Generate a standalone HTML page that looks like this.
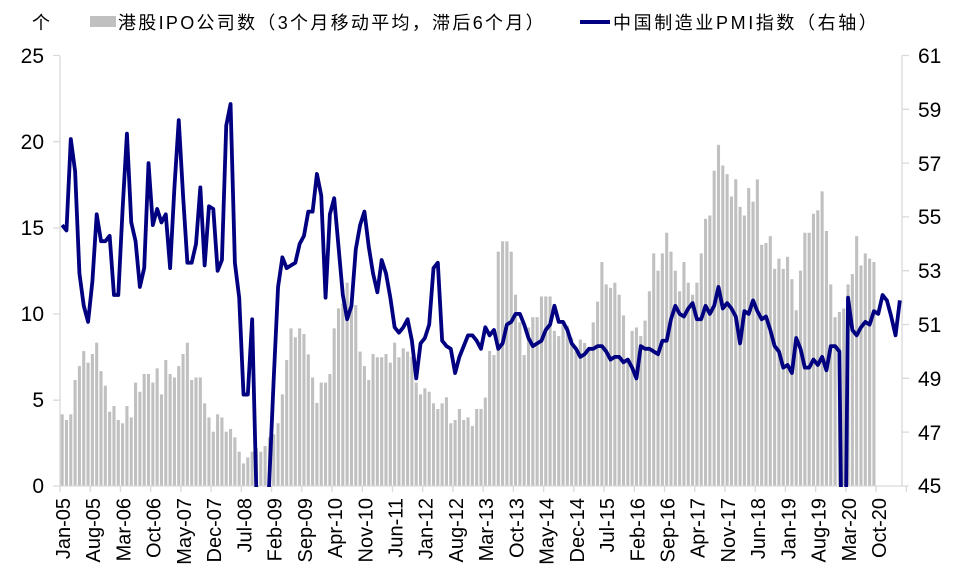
<!DOCTYPE html>
<html><head><meta charset="utf-8">
<style>
html,body{margin:0;padding:0;background:#fff;overflow:hidden;width:960px;height:585px;}
svg{display:block;font-family:"Liberation Sans","Noto Sans CJK SC",sans-serif;}
</style></head>
<body>
<svg id="c" width="960" height="585" viewBox="0 0 960 585" xmlns="http://www.w3.org/2000/svg">
<defs><clipPath id="pc"><rect x="55" y="40" width="850" height="447"/></clipPath></defs>
<g id="bars" fill="#c0c0c0"></g>
<g stroke="#d9d9d9" stroke-width="1.3" fill="none">
<line x1="60" y1="55.5" x2="60" y2="486"/>
<line x1="902" y1="55.5" x2="902" y2="486"/>
<line x1="60" y1="486" x2="902" y2="486"/>
<path d="M53 55.5H60M53 141.7H60M53 227.9H60M53 314H60M53 400.2H60M53 486H60"/>
<path d="M902 55.5H909M902 109.3H909M902 163.1H909M902 216.9H909M902 270.7H909M902 324.5H909M902 378.3H909M902 432.1H909M902 486H909"/>
<g id="xt"></g>
</g>
<polyline id="pmi" clip-path="url(#pc)" fill="none" stroke="#000080" stroke-width="3.8" stroke-linejoin="round"/>
<g font-size="21" fill="#000" text-anchor="end">
<text x="44" y="63">25</text><text x="44" y="149">20</text><text x="44" y="235">15</text>
<text x="44" y="321">10</text><text x="44" y="407">5</text><text x="44" y="493">0</text>
</g>
<g font-size="21" fill="#000">
<text x="918" y="63">61</text><text x="918" y="117">59</text><text x="918" y="171">57</text>
<text x="918" y="224">55</text><text x="918" y="278">53</text><text x="918" y="332">51</text>
<text x="918" y="386">49</text><text x="918" y="440">47</text><text x="918" y="493">45</text>
</g>
<g font-size="18" fill="#000">
<text x="32" y="29">个</text>
<rect x="90" y="16" width="26" height="11" fill="#c0c0c0"/>
<text x="118" y="29" letter-spacing="2.3">港股IPO公司数（3个月移动平均，滞后6个月）</text>
<line x1="580" y1="22" x2="610" y2="22" stroke="#000080" stroke-width="4"/>
<text x="613" y="29" letter-spacing="2.6">中国制造业PMI指数（右轴）</text>
</g>
<g font-size="20" fill="#000" text-anchor="end">
<text transform="translate(70,498) rotate(-90)">Jan-05</text>
<text transform="translate(100.2,498) rotate(-90)">Aug-05</text>
<text transform="translate(130.5,498) rotate(-90)">Mar-06</text>
<text transform="translate(160.7,498) rotate(-90)">Oct-06</text>
<text transform="translate(190.9,498) rotate(-90)">May-07</text>
<text transform="translate(221.1,498) rotate(-90)">Dec-07</text>
<text transform="translate(251.4,498) rotate(-90)">Jul-08</text>
<text transform="translate(281.6,498) rotate(-90)">Feb-09</text>
<text transform="translate(311.8,498) rotate(-90)">Sep-09</text>
<text transform="translate(342,498) rotate(-90)">Apr-10</text>
<text transform="translate(372.3,498) rotate(-90)">Nov-10</text>
<text transform="translate(402.5,498) rotate(-90)">Jun-11</text>
<text transform="translate(432.7,498) rotate(-90)">Jan-12</text>
<text transform="translate(462.9,498) rotate(-90)">Aug-12</text>
<text transform="translate(493.2,498) rotate(-90)">Mar-13</text>
<text transform="translate(523.4,498) rotate(-90)">Oct-13</text>
<text transform="translate(553.6,498) rotate(-90)">May-14</text>
<text transform="translate(583.8,498) rotate(-90)">Dec-14</text>
<text transform="translate(614.1,498) rotate(-90)">Jul-15</text>
<text transform="translate(644.3,498) rotate(-90)">Feb-16</text>
<text transform="translate(674.5,498) rotate(-90)">Sep-16</text>
<text transform="translate(704.7,498) rotate(-90)">Apr-17</text>
<text transform="translate(735,498) rotate(-90)">Nov-17</text>
<text transform="translate(765.2,498) rotate(-90)">Jun-18</text>
<text transform="translate(795.4,498) rotate(-90)">Jan-19</text>
<text transform="translate(825.6,498) rotate(-90)">Aug-19</text>
<text transform="translate(855.9,498) rotate(-90)">Mar-20</text>
<text transform="translate(886.1,498) rotate(-90)">Oct-20</text>
</g>
</svg>
<script>
var ipo=[4.16,3.83,4.16,6.15,6.96,7.83,7.16,7.66,8.32,6.67,5.82,4.31,4.64,3.83,3.64,4.64,3.98,6.0,5.47,6.5,6.5,6.0,6.83,5.32,7.31,6.5,6.3,6.96,7.66,8.32,6.15,6.3,6.3,4.8,3.98,3.15,4.16,3.98,3.15,3.31,2.82,1.99,1.31,1.66,1.99,2.2,1.99,2.32,2.82,3.0,3.64,5.32,7.31,9.15,8.63,9.15,8.82,7.64,6.3,4.82,6.0,6.0,6.5,9.15,10.31,10.6,11.8,10.6,10.5,7.8,6.96,6.15,7.66,7.47,7.47,7.66,7.16,8.32,7.47,7.99,7.8,7.5,6.0,5.32,5.67,5.47,4.8,4.47,4.8,5.15,3.64,3.83,4.47,3.83,3.98,3.48,4.47,
4.47,5.13,7.84,7.6,13.6,14.2,14.2,13.6,11.1,9.5,7.6,9.2,9.8,9.8,11.0,11.0,11.0,9.0,8.7,9.5,9.3,8.6,7.8,8.5,8.3,8.0,9.5,10.7,13.0,11.7,11.5,11.8,11.1,9.9,7.4,9.0,9.2,8.7,9.6,11.3,13.5,12.5,13.5,14.7,
13.6,12.5,11.3,13.0,11.8,11.1,11.8,13.5,15.5,15.7,18.3,19.8,18.6,18.1,16.8,17.8,16.2,15.7,17.3,16.5,17.8,14.0,14.1,14.5,12.6,13.2,12.6,13.3,12.0,10.2,12.5,14.7,14.7,15.8,16.0,17.1,14.8,11.7,9.8,10.1,10.3,11.7,12.3,14.5,12.8,13.5,13.2,13.0];
var pmi=[54.7,54.5,57.9,56.7,52.9,51.7,51.1,52.6,55.1,54.1,54.1,54.3,
52.1,52.1,55.3,58.1,54.8,54.1,52.4,53.1,57.0,54.7,55.3,54.8,
55.1,53.1,56.1,58.6,55.8,53.3,53.3,54.0,56.1,53.2,55.4,55.3,
53.0,53.4,58.4,59.2,53.3,52.0,48.4,48.4,51.2,44.6,38.8,41.2,
45.3,49.0,52.4,53.5,53.1,53.2,53.3,54.0,54.3,55.2,55.2,56.6,
55.8,52.0,55.1,55.7,53.9,52.1,51.2,51.7,53.8,54.7,55.2,53.9,
52.9,52.2,53.4,52.9,52.0,50.9,50.7,50.9,51.2,50.4,49.0,50.3,
50.5,51.0,53.1,53.3,50.4,50.2,50.1,49.2,49.8,50.2,50.6,50.6,
50.4,50.1,50.9,50.6,50.8,50.1,50.3,51.0,51.1,51.4,51.4,51.0,
50.5,50.2,50.3,50.4,50.8,51.0,51.7,51.1,51.1,50.8,50.3,50.1,
49.8,49.9,50.1,50.1,50.2,50.2,50.0,49.7,49.8,49.8,49.6,49.7,
49.4,49.0,50.2,50.1,50.1,50.0,49.9,50.4,50.4,51.2,51.7,51.4,
51.3,51.6,51.8,51.2,51.2,51.7,51.4,51.7,52.4,51.6,51.8,51.6,
51.3,50.3,51.5,51.4,51.9,51.5,51.2,51.3,50.8,50.2,50.0,49.4,
49.5,49.2,50.5,50.1,49.4,49.4,49.7,49.5,49.8,49.3,50.2,50.2,
50.0,35.7,52.0,50.8,50.6,50.9,51.1,51.0,51.5,51.4,52.1,51.9,
51.3,50.6,51.9];
var s=4.318,b=document.getElementById('bars'),h='';
ipo.forEach(function(v,i){var x=60+i*s+0.6,y=486-v*17.23;h+='<rect x="'+x.toFixed(2)+'" y="'+y.toFixed(2)+'" width="3.1" height="'+(v*17.23).toFixed(2)+'"/>';});
b.innerHTML=h;
var p=pmi.map(function(v,i){return (60+(i+0.5)*s).toFixed(2)+','+(486-(v-45)*26.9).toFixed(2);}).join(' ');
document.getElementById('pmi').setAttribute('points',p);
var t='';for(var k=0;k<=28;k++){var x=60+7*k*s;t+='M'+x.toFixed(2)+' 486V492';}
document.getElementById('xt').innerHTML='<path d="'+t+'"/>';
</script>
</body></html>
